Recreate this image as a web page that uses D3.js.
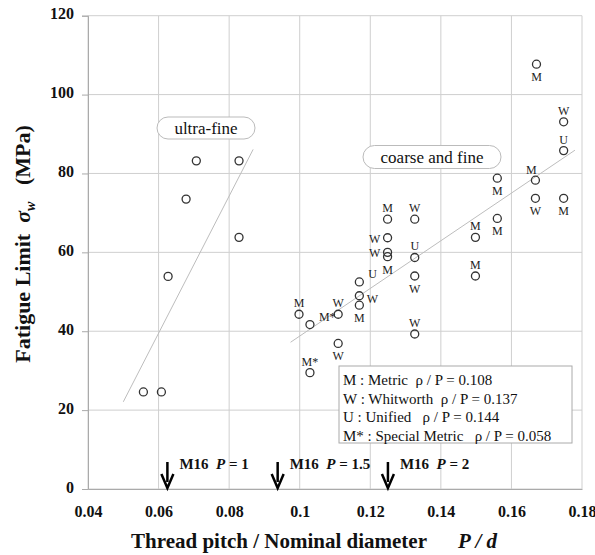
<!DOCTYPE html>
<html><head><meta charset="utf-8">
<script src="https://cdn.jsdelivr.net/npm/d3@7"></script>
<style>
body{margin:0;background:#fff}
text{font-family:"Liberation Serif","Times New Roman",serif;white-space:pre}
</style></head>
<body><svg id="c" width="595" height="555"></svg>
<script>
// ---- data ----
const xTicks = [0.04,0.06,0.08,0.1,0.12,0.14,0.16,0.18];
const xTickLabels = ["0.04","0.06","0.08","0.1","0.12","0.14","0.16","0.18"];
const yTicks = [0,20,40,60,80,100,120];
const yTickLabels = ["0","20","40","60","80","100","120"];

const ultraX = [0.0557,0.0608,0.0627,0.0678,0.0707,0.0828,0.0828];
const ultraY = [24.6,24.6,53.9,73.5,83.2,83.2,63.8];

const coarseX = [0.0998,0.1029,0.1109,0.1109,0.1029,0.1169,0.1169,0.1169,0.1249,0.1249,0.1249,0.1249,0.1326,0.1326,0.1326,0.1326,0.1498,0.1498,0.1560,0.1560,0.1671,0.1668,0.1668,0.1748,0.1748,0.1748];
const coarseY = [44.3,41.7,44.3,36.9,29.5,52.5,49.0,46.6,68.4,63.7,60.0,58.9,68.4,58.7,54.0,39.3,63.8,54.0,78.8,68.6,107.7,78.3,73.7,93.1,85.8,73.7];
const coarseType = ["M","M*","W","W","M*","U","W","M","M","W","W","M","W","U","W","W","M","M","M","M","M","M","W","W","U","M"];
// label placement: a=above b=below l=left r=right ra=right-above la=left-above
const coarseLabelSide = ["a","ra","a","b","a","ra","r","b","a","l","l","b","a","a","b","a","a","a","b","b","b","la","b","a","a","b"];

const ultraFit = [[0.050,22.1],[0.0868,86.1]];
const coarseFit = [[0.0974,37.2],[0.178,85.9]];

const arrowX = [0.0625,0.09375,0.125];
const arrowP = ["1","1.5","2"];

const legendLines = [
  "M : Metric  \u03c1 / P = 0.108",
  "W : Whitworth  \u03c1 / P = 0.137",
  "U : Unified   \u03c1 / P = 0.144",
  "M* : Special Metric   \u03c1 / P = 0.058"
];

// ---- chart ----
const svg = d3.select("#c");
const x = d3.scaleLinear().domain([0.04,0.18]).range([88,582]);
const y = d3.scaleLinear().domain([0,120]).range([489,15.7]);
const grid = "#cfcfcf";

// gridlines
svg.append("g").selectAll("line").data(xTicks).join("line")
  .attr("x1",d=>x(d)).attr("x2",d=>x(d)).attr("y1",y(0)).attr("y2",y(120))
  .attr("stroke",grid).attr("stroke-width",1);
svg.append("g").selectAll("line").data(yTicks).join("line")
  .attr("x1",x(0.04)).attr("x2",x(0.18)).attr("y1",d=>y(d)).attr("y2",d=>y(d))
  .attr("stroke",grid).attr("stroke-width",1);

// axes
const xa = svg.append("g").attr("transform",`translate(0,${y(0)})`)
  .call(d3.axisBottom(x).tickValues(xTicks).tickFormat((d,i)=>xTickLabels[i]).tickSize(0).tickPadding(14));
const ya = svg.append("g").attr("transform",`translate(${x(0.04)},0)`)
  .call(d3.axisLeft(y).tickValues(yTicks).tickFormat((d,i)=>yTickLabels[i]).tickSize(6).tickPadding(8));
[xa,ya].forEach(g=>{
  g.select(".domain").attr("stroke","#aaa");
  g.selectAll(".tick line").attr("stroke","#aaa");
  g.selectAll("text").attr("font-family","Liberation Serif").attr("font-weight","bold")
    .attr("font-size",16).attr("fill","#111");
});
ya.selectAll(".tick text").attr("dy","0.2em");
xa.selectAll(".tick text").attr("dy","0.85em");

// fit lines
const line = d3.line().x(d=>x(d[0])).y(d=>y(d[1]));
svg.append("path").attr("d",line(ultraFit)).attr("stroke","#bdbdbd").attr("fill","none").attr("stroke-width",1);
svg.append("path").attr("d",line(coarseFit)).attr("stroke","#bdbdbd").attr("fill","none").attr("stroke-width",1);

// ultra points
svg.append("g").selectAll("circle").data(ultraX).join("circle")
  .attr("cx",d=>x(d)).attr("cy",(d,i)=>y(ultraY[i])).attr("r",4)
  .attr("fill","none").attr("stroke","#333").attr("stroke-width",1.3);

// coarse points
const cg = svg.append("g");
cg.selectAll("circle").data(coarseX).join("circle")
  .attr("cx",d=>x(d)).attr("cy",(d,i)=>y(coarseY[i])).attr("r",4)
  .attr("fill","none").attr("stroke","#333").attr("stroke-width",1.3);
const off = {a:[0,-11],b:[0,13],l:[-13,1],r:[13,3],ra:[9,-8],la:[-4,-10]};
const anch = {a:"middle",b:"middle",l:"middle",r:"middle",ra:"start",la:"middle"};
cg.selectAll("text").data(coarseX).join("text")
  .attr("x",(d,i)=>x(d)+off[coarseLabelSide[i]][0])
  .attr("y",(d,i)=>y(coarseY[i])+off[coarseLabelSide[i]][1])
  .attr("text-anchor",(d,i)=>anch[coarseLabelSide[i]])
  .attr("dominant-baseline","central")
  .attr("font-size",12).attr("fill","#222")
  .text((d,i)=>coarseType[i]);

// label boxes
function tag(cx,cy,w,h,txt){
  svg.append("rect").attr("x",cx-w/2).attr("y",cy-h/2).attr("width",w).attr("height",h)
    .attr("rx",h/2).attr("ry",h/2).attr("fill","#fff").attr("stroke","#bbb").attr("stroke-width",1);
  svg.append("text").attr("x",cx).attr("y",cy).attr("text-anchor","middle")
    .attr("dominant-baseline","central").attr("font-size",17).attr("fill","#111").text(txt);
}
tag(206,128,98,22,"ultra-fine");
tag(432,157,138,23,"coarse and fine");

// legend
svg.append("rect").attr("x",339).attr("y",366).attr("width",233).attr("height",77)
  .attr("fill","#fff").attr("stroke","#aaa").attr("stroke-width",1);
svg.append("g").selectAll("text").data(legendLines).join("text")
  .attr("x",343).attr("y",(d,i)=>385+i*18.5)
  .attr("font-size",15).attr("fill","#111").text(d=>d);

// arrows
const ag = svg.append("g");
arrowX.forEach((v,i)=>{
  const ax = x(v);
  ag.append("line").attr("x1",ax).attr("x2",ax).attr("y1",462).attr("y2",482)
    .attr("stroke","#000").attr("stroke-width",2.5);
  ag.append("path").attr("d",`M${ax-6},${474} L${ax},${488} L${ax+6},${474}`)
    .attr("fill","none").attr("stroke","#000").attr("stroke-width",2.5);
  const t = ag.append("text").attr("x",ax+12).attr("y",469).attr("font-size",15)
    .attr("font-weight","bold").attr("fill","#111");
  t.append("tspan").text("M16  ");
  t.append("tspan").attr("font-style","italic").text("P");
  t.append("tspan").text(" = "+arrowP[i]);
});

// x title
const xt = svg.append("text").attr("x",314).attr("y",548).attr("text-anchor","middle")
  .attr("font-size",21).attr("font-weight","bold").attr("fill","#111");
xt.append("tspan").text("Thread pitch / Nominal diameter      ");
xt.append("tspan").attr("font-style","italic").text("P / d");

// y title
const yt = svg.append("text").attr("transform","translate(30,244) rotate(-90)")
  .attr("text-anchor","middle").attr("font-size",22).attr("font-weight","bold").attr("fill","#111");
yt.append("tspan").text("Fatigue Limit  ");
yt.append("tspan").attr("font-style","italic").text("\u03c3");
yt.append("tspan").attr("font-style","italic").attr("font-size",14).attr("dy",5).text("w");
yt.append("tspan").attr("dy",-5).text("   (MPa)");
</script></body></html>
